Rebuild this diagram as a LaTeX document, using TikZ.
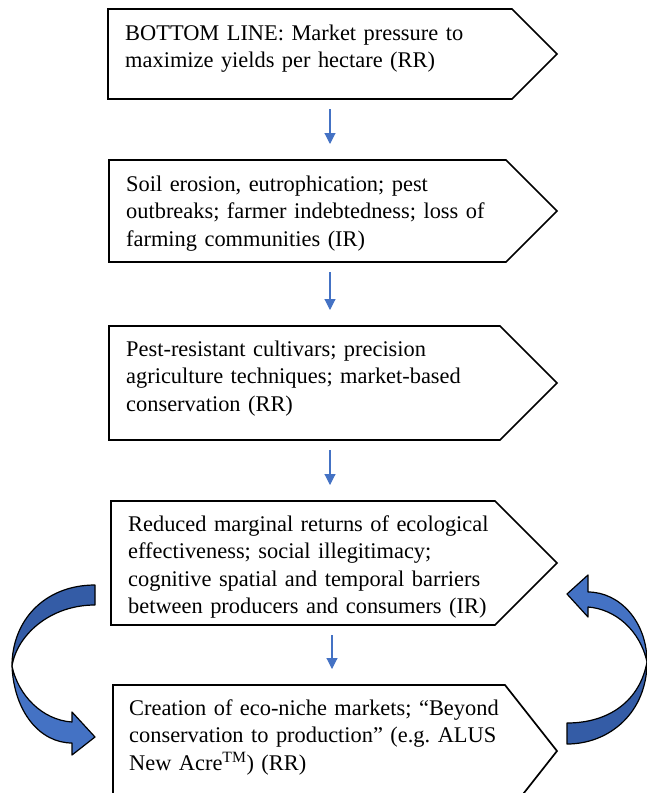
\documentclass[tikz,border=0pt]{standalone}
\usepackage{fontspec}
\setmainfont{Liberation Serif}
\usetikzlibrary{arrows.meta}
\definecolor{flowblue}{RGB}{68,114,196}
\definecolor{ribbondark}{RGB}{52,92,166}
\tikzset{
  flowbox/.style={draw=black,line width=1.7pt,line join=miter,fill=white},
  flowtext/.style={anchor=base west,inner sep=0pt,text width=430pt,align=left,
    font=\fontsize{22.4}{27.5}\selectfont\frenchspacing},
  flowarrow/.style={draw=flowblue,line width=1.1pt,-{Triangle[width=11pt,length=11pt]},
    shorten <=10pt,shorten >=16pt},
  ribbon/.style={draw=black,line width=1.2pt,line join=round}
}
\begin{document}
\begin{tikzpicture}[x=1pt,y=-1pt]
            \useasboundingbox (0,0) rectangle (646,793);

            \draw[flowbox] (108,9) -- (512,9) -- (557,54) -- (512,99) -- (108,99) -- cycle;
            \draw[flowbox] (109,160) -- (506,160) -- (557,211) -- (506,262) -- (109,262) -- cycle;
            \draw[flowbox] (109,326) -- (500,326) -- (557,383) -- (500,440) -- (109,440) -- cycle;
            \draw[flowbox] (111,501) -- (495,501) -- (557,563) -- (495,625) -- (111,625) -- cycle;
            \draw[flowbox] (113,685) -- (505,685) -- (557,751) -- (505,817) -- (113,817) -- cycle;

            \node[flowtext] (t1) at (125,40) {BOTTOM LINE: Market pressure to\\
                maximize yields per hectare (RR)};
            \node[flowtext] (t2) at (126,191) {Soil erosion, eutrophication; pest\\
                outbreaks; farmer indebtedness; loss of\\ farming communities (IR)};
            \node[flowtext] (t3) at (126,356) {Pest-resistant cultivars; precision\\
                agriculture techniques; market-based\\ conservation (RR)};
            \node[flowtext] (t4) at (128,531) {Reduced marginal returns of ecological\\
                effectiveness; social illegitimacy;\\
                cognitive spatial and temporal barriers\\
                between producers and consumers (IR)};
            \node[flowtext] (t5) at (129,715) {Creation of eco-niche markets; “Beyond\\
                conservation to production” (e.g. ALUS\\
                New Acre\textsuperscript{TM}) (RR)};

            \coordinate (b1s) at (330,99);
            \coordinate (b2n) at (330,160);
            \coordinate (b2s) at (330,262);
            \coordinate (b3n) at (330,326);
            \coordinate (b3s) at (330,440);
            \coordinate (b4n) at (330,501);
            \coordinate (b4s) at (332,625);
            \coordinate (b5n) at (332,685);
            \draw[flowarrow] (b1s) -- (b2n);
            \draw[flowarrow] (b2s) -- (b3n);
            \draw[flowarrow] (b3s) -- (b4n);
            \draw[flowarrow] (b4s) -- (b5n);

            \filldraw[ribbon,fill=ribbondark] (95,585) .. controls (45,585) and (12,620) .. (12,666)
                .. controls (17,635) and (50,605) .. (95,605) -- cycle;
            \filldraw[ribbon,fill=flowblue] (12,666) .. controls (14,712) and (40,743) .. (72,743)
                -- (72,755) -- (95,737) -- (72,712) -- (72,722)
                .. controls (42,720) and (18,695) .. (12,666) -- cycle;

            \filldraw[ribbon,fill=ribbondark] (567,744) .. controls (610,744) and (647,712) .. (647,662)
                .. controls (640,700) and (610,723) .. (567,723) -- cycle;
            \filldraw[ribbon,fill=flowblue] (647,662) .. controls (647,622) and (620,592) .. (588,592)
                -- (588,575) -- (567,594) -- (588,617) -- (588,607)
                .. controls (615,609) and (640,630) .. (647,662) -- cycle;
        \end{tikzpicture}
\end{document}
